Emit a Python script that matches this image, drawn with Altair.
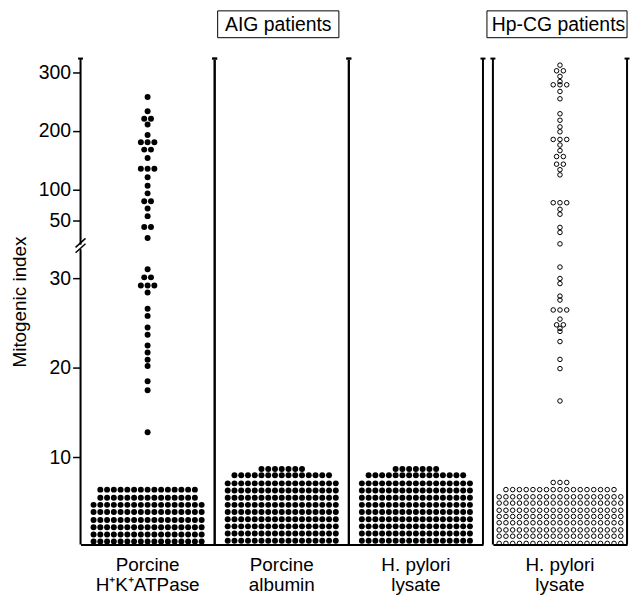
import altair as alt
import pandas as pd

# ---------------- data ----------------
panels_aig = ["Porcine|H\u207aK\u207aATPase", "Porcine|albumin", "H. pylori|lysate"]
panel_hpcg = ["H. pylori|lysate"]

# low responders drawn as a stacked block: level of each row, dots per row
atpase_levels = [0.6, 1.4, 2.2, 3.0, 3.9, 4.7, 5.5, 6.4]
atpase_counts = [17, 17, 17, 17, 17, 17, 15, 15]
atpase_values = [258, 233.6, 221, 221, 210.9, 193, 180.7, 180.7, 180.7, 168, 168,
                 153.7, 135.3, 135.3, 135.3, 120.6, 106, 93.6, 81.2, 81.2, 69.7,
                 57.6, 46.6, 46.6, 40.5,
                 31.0, 30.1, 30.1, 29.2, 29.2, 29.2, 28.4, 26.6, 25.8, 24.5, 23.7,
                 22.5, 21.7, 20.9, 20.2, 18.5, 17.5, 12.8]

albumin_levels = [0.7, 1.5, 2.3, 3.1, 3.9, 4.7, 5.5, 6.3, 7.1, 8.0, 8.7]
albumin_counts = [17, 17, 17, 17, 17, 17, 17, 17, 17, 15, 7]

hp_aig_levels = [0.7, 1.5, 2.3, 3.1, 3.9, 4.7, 5.5, 6.3, 7.1, 8.0, 8.7]
hp_aig_counts = [17, 17, 17, 17, 17, 17, 17, 17, 17, 15, 7]

hpcg_levels = [0.4, 1.2, 1.9, 2.7, 3.4, 4.1, 4.9, 5.6, 6.4, 7.2]
hpcg_counts = [19, 19, 19, 19, 19, 19, 19, 19, 17, 3]
hpcg_values = [312.6, 303, 303, 293.4, 284.5, 279, 279, 279, 267.5, 255, 229.4,
               218.3, 206.9, 198.5, 185.4, 185.4, 185.4, 175.9, 166.3, 156.1, 156.1,
               143.1, 143.1, 133.6, 124.8, 78.8, 78.8, 78.8, 68.4, 60.6, 46.4, 43.6,
               37.2,
               31.25, 29.97, 29.41, 28.01, 27.57, 26.46, 26.46, 26.46, 25.44, 24.8,
               24.8, 24.4, 24.07, 22.93, 20.94, 19.91, 16.3]

tick_values = [10, 20, 30, 50, 100, 200, 300]


def build(panel, levels, counts, values):
    rows = []
    for lv, c in zip(levels, counts):
        for _ in range(c):
            rows.append({"panel": panel, "v": lv})
    for v in values:
        rows.append({"panel": panel, "v": v})
    return rows


left_df = pd.DataFrame(
    build(panels_aig[0], atpase_levels, atpase_counts, atpase_values)
    + build(panels_aig[1], albumin_levels, albumin_counts, [])
    + build(panels_aig[2], hp_aig_levels, hp_aig_counts, [])
)
right_df = pd.DataFrame(build(panel_hpcg[0], hpcg_levels, hpcg_counts, hpcg_values))


# broken axis: linear below 33, compressed segments above
def pos(v):
    if v <= 33:
        return v
    if v <= 50:
        return 33 + (v - 33) * 0.2
    if v <= 100:
        return 36.4 + (v - 50) * 0.0706
    return 39.93 + (v - 100) * 0.0652


POS = ("datum.v <= 33 ? datum.v : datum.v <= 50 ? 33 + (datum.v - 33) * 0.2 : "
       "datum.v <= 100 ? 36.4 + (datum.v - 50) * 0.0706 : 39.93 + (datum.v - 100) * 0.0652")
LABEL = ("datum.value <= 33.01 ? format(datum.value, 'd') : "
         "datum.value <= 36.41 ? format(round(33 + (datum.value - 33) / 0.2), 'd') : "
         "datum.value <= 39.94 ? format(round(50 + (datum.value - 36.4) / 0.0706), 'd') : "
         "format(round(100 + (datum.value - 39.93) / 0.0652), 'd')")

YMIN, YMAX = 0.28, 54.53
FONT = "Liberation Sans, Arial, sans-serif"
H = 489
W_LEFT, W_RIGHT = 405, 135

ys = alt.Scale(domain=[YMIN, YMAX], nice=False, zero=False)
y_axis = alt.Axis(values=[pos(t) for t in tick_values], labelExpr=LABEL, domain=False,
                  grid=False, tickSize=8, tickWidth=1.5, tickColor="black",
                  labelFontSize=19.5, labelColor="black", labelPadding=2, labelFont=FONT,
                  title="Mitogenic index", titleFontSize=19, titleFontWeight="normal",
                  titleFont=FONT, titleColor="black", titleX=-55, titleBaseline="alphabetic")
x_axis = alt.Axis(title=None, domain=True, domainWidth=2, domainColor="black", ticks=False,
                  tickSize=0, grid=False, labelAngle=0, labelExpr="split(datum.label, '|')",
                  labelFontSize=19, labelLineHeight=20, labelPadding=11,
                  labelColor="black", labelFont=FONT, labelBaseline="top")


def panel_chart(df, panels, width, off_half, filled, title, box, show_y, brk):
    xs = alt.Scale(domain=panels, paddingInner=0, paddingOuter=0)

    def X(bp=None):
        if bp is None:
            return alt.X("panel:N", scale=xs, axis=x_axis, sort=panels)
        return alt.X("panel:N", scale=xs, axis=x_axis, sort=panels, bandPosition=bp)

    yax = y_axis if show_y else None

    base = (alt.Chart(df)
            .transform_calculate(pos=POS)
            .transform_joinaggregate(n="count()", groupby=["panel", "v"])
            .transform_window(rank="row_number()", groupby=["panel", "v"])
            .transform_calculate(off="datum.rank - (datum.n + 1) / 2"))
    if filled:
        mark = base.mark_circle(size=36, color="black", opacity=1)
    else:
        mark = base.mark_point(shape="circle", filled=False, size=21, strokeWidth=1,
                               color="black", opacity=1)
    dots = mark.encode(
        x=X(),
        xOffset=alt.XOffset("off:Q", scale=alt.Scale(domain=[-off_half, off_half])),
        y=alt.Y("pos:Q", scale=ys, axis=yax),
    )

    one = pd.DataFrame({"k": [0]})
    pdf = pd.DataFrame({"panel": panels})
    vlines, caps = [], []
    for bp in (0, 1):
        vlines.append(alt.Chart(pdf).mark_rule(color="black", strokeWidth=2).encode(
            x=X(bp), y=alt.datum(YMIN), y2=alt.datum(YMAX)))
        caps.append(alt.Chart(pdf).mark_point(shape="M -1 0 L 1 0", size=25, filled=False,
                                              strokeWidth=2, color="black", opacity=1).encode(
            x=X(bp), y=alt.datum(YMAX)))
    # cover the faint top edge of the view (the reference has no top border)
    mask = alt.Chart(one).mark_rule(color="white", strokeWidth=3).encode(
        x=alt.value(2), x2=alt.value(width - 2), y=alt.datum(YMAX))

    rect = alt.Chart(one).mark_rect(fill="white", stroke="black", strokeWidth=1).encode(
        x=alt.value(box[0]), x2=alt.value(box[1]), y=alt.value(-48), y2=alt.value(-21))
    text = alt.Chart(one).mark_text(fontSize=19.5, font=FONT, color="black",
                                    baseline="middle", align="center").encode(
        x=alt.value(box[2]), y=alt.value(-34), text=alt.value(title))
    layers = [dots] + vlines + [mask] + caps + [rect, text]

    if brk:
        layers.append(alt.Chart(one).mark_rule(color="white", strokeWidth=5).encode(
            x=alt.value(0), y=alt.datum(33.25), y2=alt.datum(33.75)))
        for a in (32.85, 33.45):
            layers.append(alt.Chart(one).mark_rule(color="black", strokeWidth=1.5).encode(
                x=alt.value(-5), x2=alt.value(5), y=alt.datum(a), y2=alt.datum(a + 1.0)))

    return alt.layer(*layers).properties(width=width, height=H)


left = panel_chart(left_df, panels_aig, W_LEFT, 8.88, True, "AIG patients",
                   (138, 260, 199), True, True)
right = panel_chart(right_df, panel_hpcg, W_RIGHT, 9.93, False, "Hp-CG patients",
                    (-6, 135, 66), False, False)

chart = (alt.hconcat(left, right, spacing=10, bounds="flush",
                     padding={"left": 2, "top": 0, "right": 0, "bottom": 0})
         .resolve_scale(x="independent", y="shared")
         .configure_view(stroke="transparent", strokeWidth=0, strokeOpacity=0)
         .configure_axis(grid=False)
         .configure(font=FONT, background="white",
                    padding={"left": 2, "top": 0, "right": 0, "bottom": 0}))

chart.save("out.html", embed_options={"renderer": "svg", "actions": False})
